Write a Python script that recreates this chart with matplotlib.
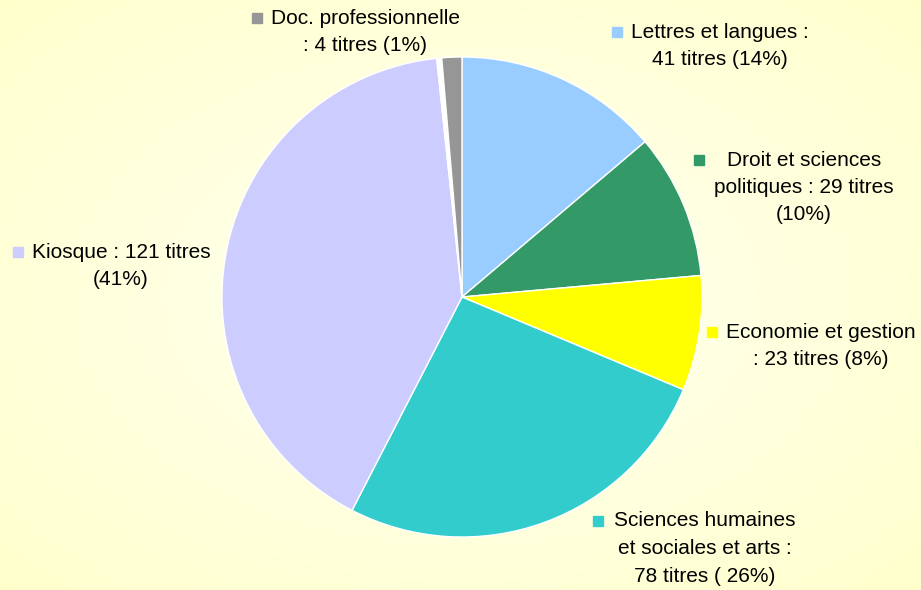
import matplotlib.pyplot as plt
import numpy as np

plt.rcParams['font.family'] = ['Liberation Sans', 'DejaVu Sans']

# data, clockwise from 12 o'clock
categories = ["Lettres et langues", "Droit et sciences politiques", "Economie et gestion",
              "Sciences humaines et sociales et arts", "Kiosque", "", "Doc. professionnelle"]
values = [41, 29, 23, 78, 121, 1, 4]
colors = ["#99CCFF", "#339966", "#FFFF00", "#33CCCC", "#CCCCFF", "#FFFFFF", "#969696"]

label_lines = [
    ["Lettres et langues :", "41 titres (14%)"],
    ["Droit et sciences", "politiques : 29 titres", "(10%)"],
    ["Economie et gestion", ": 23 titres (8%)"],
    ["Sciences humaines", "et sociales et arts :", "78 titres ( 26%)"],
    ["Kiosque : 121 titres", "(41%)"],
    None,
    ["Doc. professionnelle", ": 4 titres (1%)"],
]
# label block centre x, first line y (pixels from top)
label_pos = [(720, 32), (804, 160), (821, 332), (705, 521), (121, 252), None, (365, 18)]
marker_gap = [14, 28, 14, 16, 14, None, 14]

W, H = 921, 590
fig = plt.figure(figsize=(W / 100, H / 100), dpi=100)

# background radial gradient
bg = fig.add_axes([0, 0, 1, 1])
yy, xx = np.mgrid[0:H, 0:W]
r = np.sqrt(((xx - W / 2) / (W / 2)) ** 2 + ((yy - H / 2) / (H / 2)) ** 2) / np.sqrt(2)
c0 = np.array([1.0, 1.0, 0.95])
c1 = np.array([1.0, 1.0, 0.80])
img = c0[None, None, :] + (c1 - c0)[None, None, :] * np.clip(r, 0, 1)[:, :, None]
bg.imshow(img, aspect='auto', extent=[0, W, 0, H])
bg.axis('off')

ax = fig.add_axes([0, 0, 1, 1])
ax.pie(values, colors=colors, startangle=90, counterclock=False,
       center=(462, H - 297), radius=240, frame=True,
       wedgeprops=dict(edgecolor='white', linewidth=1))
ax.set_xlim(0, W)
ax.set_ylim(0, H)
ax.set_aspect('equal')
ax.axis('off')

fs = 15
lh = 27.5
fig.canvas.draw()
for lines, pos, col, gap in zip(label_lines, label_pos, colors, marker_gap):
    if lines is None:
        continue
    cx, y0 = pos
    texts = []
    for i, line in enumerate(lines):
        texts.append(ax.text(cx, H - (y0 + i * lh), line, fontsize=fs,
                             ha='center', va='center', color='black'))
    bb = texts[0].get_window_extent(renderer=fig.canvas.get_renderer())
    ax.plot(bb.x0 - gap, H - y0, marker='s', markersize=7.5, color=col, linestyle='none')

fig.savefig("out.png", dpi=100)
